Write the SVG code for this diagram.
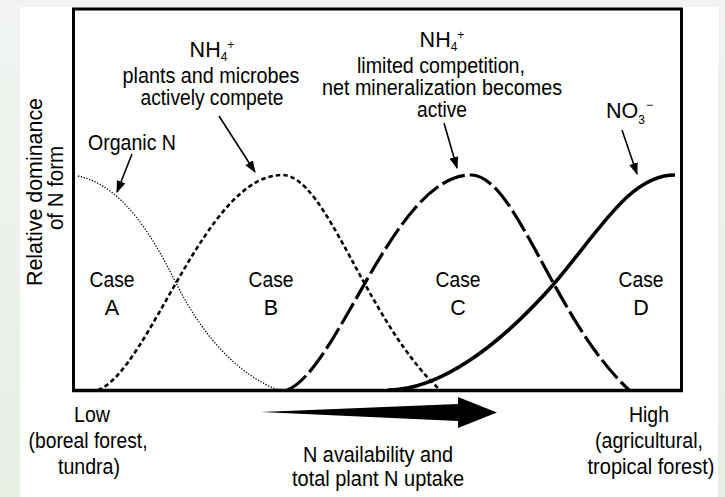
<svg xmlns="http://www.w3.org/2000/svg" width="725" height="497" viewBox="0 0 725 497">
<style>
text{font-family:"Liberation Sans",Arial,sans-serif;fill:#000;}
.lbl{font-size:21.5px;text-anchor:middle;}
.sub{font-size:12px;}
.curve{fill:none;stroke:#000;stroke-linecap:butt;}
.ptr{fill:none;stroke:#000;stroke-width:1.6;marker-end:url(#ah);}
</style>
<defs>
<linearGradient id="bg" x1="0" y1="0" x2="0" y2="1">
<stop offset="0" stop-color="#f1f4f1"/>
<stop offset="1" stop-color="#e6efe4"/>
</linearGradient>
<marker id="ah" markerUnits="userSpaceOnUse" markerWidth="12" markerHeight="9" refX="11" refY="4.5" orient="auto">
<path d="M0,0 L12,4.5 L0,9 z" fill="#000"/>
</marker>
</defs>
<rect x="0" y="0" width="725" height="497" fill="url(#bg)"/>
<rect x="20" y="7" width="698" height="490" fill="#fff"/>

<g id="frame">
<rect x="73.5" y="9" width="608" height="381.5" fill="none" stroke="#000" stroke-width="3"/>
<line x1="72" y1="390.5" x2="683" y2="390.5" stroke="#000" stroke-width="3.5"/>
</g>

<g id="y-axis-label">
<text transform="translate(42,192) rotate(-90)" font-size="22.5" text-anchor="middle" textLength="188" lengthAdjust="spacingAndGlyphs">Relative dominance</text>
<text transform="translate(63,188) rotate(-90)" font-size="22.5" text-anchor="middle" textLength="84" lengthAdjust="spacingAndGlyphs">of N form</text>
</g>

<g id="connectors">
<path id="curve-organic" class="curve" d="M78,176 C120,185 150,230 177,285 C205,340 240,375 278,390" stroke-width="1.3" stroke-dasharray="1.3 1.6"/>
<path id="curve-B" class="curve" d="M98,390 C150,370 205,175 282,175 C327,175 365,320 440,390" stroke-width="2.6" stroke-dasharray="4.5 3"/>
<path id="curve-C" class="curve" d="M287,390 C339,370 394,175 471,175 C516,175 554,320 629,390" stroke-width="3.2" stroke-dasharray="24 5"/>
<path id="curve-D" class="curve" d="M388,390 C440,390 500,345 553,285 C600,230 630,175 675,175" stroke-width="3.6"/>
<line class="ptr" x1="132" y1="154" x2="117" y2="192"/>
<line class="ptr" x1="219" y1="116" x2="255" y2="172"/>
<line class="ptr" x1="444" y1="123" x2="457" y2="168"/>
<line class="ptr" x1="622" y1="130" x2="637" y2="174"/>
<path id="big-arrow" d="M261,412 L458,404 L458,397 L497,412.5 L458,428 L458,421 Z" fill="#000"/>
</g>

<g id="label-organic">
<text class="lbl" x="132" y="150" textLength="88" lengthAdjust="spacingAndGlyphs">Organic N</text>
</g>
<g id="label-B">
<text class="lbl" x="212" y="57">NH<tspan class="sub" dy="4">4</tspan><tspan class="sub" dy="-12">+</tspan></text>
<text class="lbl" x="211" y="83" textLength="177" lengthAdjust="spacingAndGlyphs">plants and microbes</text>
<text class="lbl" x="212" y="105" textLength="143" lengthAdjust="spacingAndGlyphs">actively compete</text>
</g>
<g id="label-C">
<text class="lbl" x="442" y="47">NH<tspan class="sub" dy="4">4</tspan><tspan class="sub" dy="-12">+</tspan></text>
<text class="lbl" x="441" y="73" textLength="168" lengthAdjust="spacingAndGlyphs">limited competition,</text>
<text class="lbl" x="442" y="95" textLength="240" lengthAdjust="spacingAndGlyphs">net mineralization becomes</text>
<text class="lbl" x="442" y="117" textLength="50" lengthAdjust="spacingAndGlyphs">active</text>
</g>
<g id="label-D">
<text x="606" y="118" font-size="21.5">NO<tspan class="sub" dy="6">3</tspan><tspan class="sub" dy="-15" dx="1">−</tspan></text>
</g>

<g id="case-A"><text class="lbl" x="112" y="287" textLength="45" lengthAdjust="spacingAndGlyphs">Case</text><text class="lbl" x="112" y="315">A</text></g>
<g id="case-B"><text class="lbl" x="271" y="287" textLength="45" lengthAdjust="spacingAndGlyphs">Case</text><text class="lbl" x="271" y="315">B</text></g>
<g id="case-C"><text class="lbl" x="458" y="287" textLength="45" lengthAdjust="spacingAndGlyphs">Case</text><text class="lbl" x="458" y="315">C</text></g>
<g id="case-D"><text class="lbl" x="641" y="287" textLength="45" lengthAdjust="spacingAndGlyphs">Case</text><text class="lbl" x="641" y="315">D</text></g>

<g id="label-low">
<text class="lbl" x="92" y="422" textLength="36" lengthAdjust="spacingAndGlyphs">Low</text>
<text class="lbl" x="88" y="448" textLength="119" lengthAdjust="spacingAndGlyphs">(boreal forest,</text>
<text class="lbl" x="89" y="474" textLength="62" lengthAdjust="spacingAndGlyphs">tundra)</text>
</g>
<g id="label-high">
<text class="lbl" x="649" y="422" textLength="40" lengthAdjust="spacingAndGlyphs">High</text>
<text class="lbl" x="649" y="448" textLength="108" lengthAdjust="spacingAndGlyphs">(agricultural,</text>
<text class="lbl" x="651" y="474" textLength="127" lengthAdjust="spacingAndGlyphs">tropical forest)</text>
</g>
<g id="label-axis">
<text class="lbl" x="378" y="462" textLength="150" lengthAdjust="spacingAndGlyphs">N availability and</text>
<text class="lbl" x="378" y="486" textLength="172" lengthAdjust="spacingAndGlyphs">total plant N uptake</text>
</g>
</svg>
